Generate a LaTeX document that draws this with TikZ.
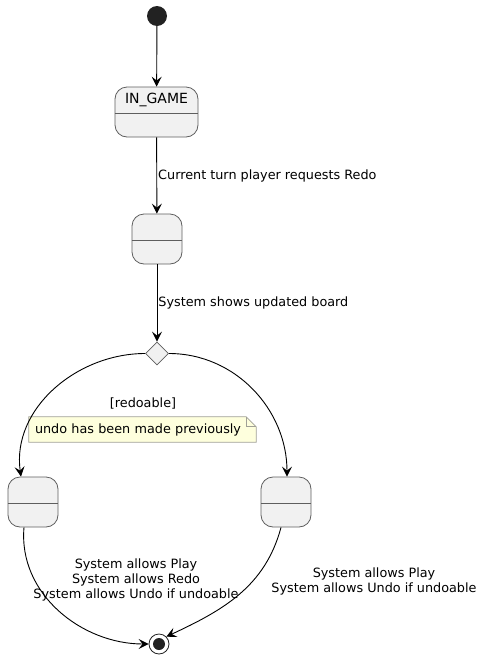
\documentclass[tikz,border=0pt]{standalone}
\usepackage{fontspec}
\setmainfont{DejaVu Sans}
\usepackage{xcolor}
\usepackage{tikz}
\usetikzlibrary{positioning,shapes,arrows.meta,backgrounds,calc}
\definecolor{statefill}{RGB}{241,241,241}
\definecolor{stateline}{RGB}{94,94,94}
\definecolor{notefill}{RGB}{254,255,221}
\definecolor{noteline}{RGB}{160,160,150}
\definecolor{dotfill}{RGB}{34,34,34}

\begin{document}
\begin{tikzpicture}[x=1pt, y=-1pt, auto, font=\fontsize{12.8}{15}\selectfont]
    \tikzstyle{state} = [rectangle, rounded corners=12pt, minimum width=50pt, minimum height=50pt, inner sep=0pt, draw=stateline, line width=0.8pt, fill=statefill]
    \tikzstyle{choice} = [diamond, minimum width=23pt, minimum height=23pt, inner sep=0pt, draw=stateline, line width=0.8pt, fill=statefill]
    \tikzstyle{initial} = [circle, minimum size=20pt, inner sep=0pt, fill=dotfill]
    \tikzstyle{final} = [circle, minimum size=20pt, inner sep=0pt, draw=dotfill, line width=0.8pt, fill=white, path picture={\fill[dotfill] (path picture bounding box.center) circle (6pt);}]
    \tikzstyle{lbl} = [inner sep=1pt, align=center]
    \tikzstyle{flow} = [-{Stealth[length=10pt, width=10pt, inset=4pt]}, line width=0.9pt, black]
    \useasboundingbox (0,0) rectangle (484,659);

    % Start and first state
    \node [initial] (start) at (157,16) {};
    \node [state, minimum width=83pt] (ingame) at (156.5,112) {};
    \node [font=\fontsize{14}{16}\selectfont] (ingametitle) at (156.5,100) {IN\_GAME};
    \draw [draw=stateline, line width=0.8pt] ([yshift=-1pt]ingame.west) -- ([yshift=-1pt]ingame.east);

    % Redo state and choice
    \node [state] (redo) at (157,239) {};
    \draw [draw=stateline, line width=0.8pt] ([yshift=-1pt]redo.west) -- ([yshift=-1pt]redo.east);
    \node [choice] (check) at (157,353.5) {};

    % Outcome states
    \node [state] (redone) at (33,502) {};
    \draw [draw=stateline, line width=0.8pt] ([yshift=-1pt]redone.west) -- ([yshift=-1pt]redone.east);
    \node [state] (notredone) at (286,502) {};
    \draw [draw=stateline, line width=0.8pt] ([yshift=-1pt]notredone.west) -- ([yshift=-1pt]notredone.east);
    \node [final] (end) at (159,644) {};

    % Guard and note
    \node [lbl] (guard) at (143,403) {[redoable]};
    \node [inner sep=0pt, minimum width=227pt, minimum height=25pt, text width=215pt] (note) at (142.5,429.5) {undo has been made previously};
    \begin{scope}[on background layer]
    \filldraw [fill=notefill, draw=noteline, line width=0.8pt] (note.north west) -- ([xshift=-10pt]note.north east) -- ([yshift=-10pt]note.north east) -- (note.south east) -- (note.south west) -- cycle;
    \draw [draw=noteline, line width=0.8pt] ([xshift=-10pt]note.north east) -- ([xshift=-10pt, yshift=-10pt]note.north east) -- ([yshift=-10pt]note.north east);
    \end{scope}

    % Arrows
    \draw [flow] (start) -- (ingame);
    \draw [flow] (ingame) -- node [lbl, right] {Current turn player requests Redo} (redo);
    \draw [flow] (redo) -- node [lbl, right] {System shows updated board} (check);
    \draw [flow] (check.west) to [out=180, in=98] ([xshift=-12pt]redone.north);
    \draw [flow] (check.east) to [out=0, in=90] ([xshift=1pt]notredone.north);
    \draw [flow] ([xshift=-9pt]redone.south) to [out=-95, in=180] (end.west);
    \draw [flow] ([xshift=-5pt]notredone.south) to [out=-105, in=25] (end.north east);

    % Exit labels
    \node [lbl] (redonelbl) at (136,580) {System allows Play\\System allows Redo\\System allows Undo if undoable};
    \node [lbl] (notredonelbl) at (374,581) {System allows Play\\System allows Undo if undoable};
\end{tikzpicture}
\end{document}
